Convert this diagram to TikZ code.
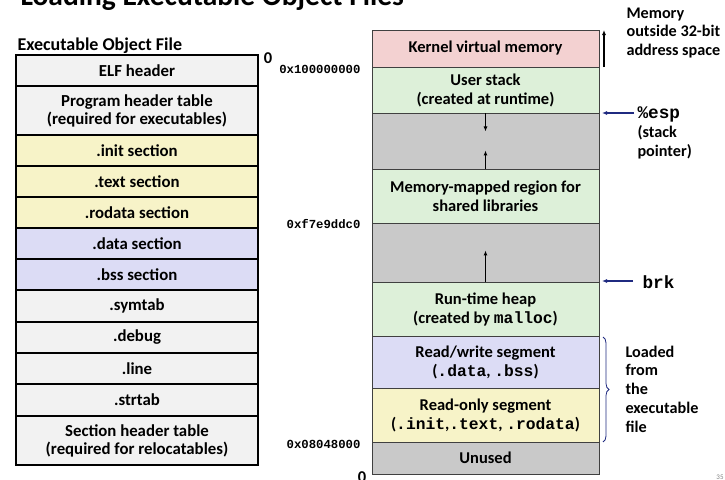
\documentclass[tikz,border=0pt]{standalone}
\usepackage{fontspec}
\setmainfont{Carlito}
\setmonofont{Liberation Mono}
\usetikzlibrary{arrows.meta,decorations.pathreplacing}
\definecolor{filegray}{HTML}{F2F2F2}
\definecolor{codeyellow}{HTML}{F7F3C8}
\definecolor{datablue}{HTML}{DCDCF5}
\definecolor{kernpink}{HTML}{F3D1D1}
\definecolor{usergreen}{HTML}{DDF0D9}
\definecolor{gapgray}{HTML}{C9C9C9}
\definecolor{segline}{HTML}{404040}
\definecolor{ptrblue}{HTML}{1F2A80}
\newcommand\code[1]{{\ttfamily\fontsize{16.3}{19}\selectfont #1}}

\begin{document}
\begin{tikzpicture}[x=1pt,y=-1pt,
	sec/.style={draw=black,line width=1.6pt,minimum width=242pt,inner sep=0pt,align=center,
		font=\fontsize{16.8}{18}\selectfont\bfseries},
	seg/.style={draw=segline,line width=0.9pt,minimum width=227pt,inner sep=0pt,align=center,
		font=\fontsize{16.5}{19}\selectfont\bfseries},
	addr/.style={anchor=east,font=\ttfamily\bfseries\fontsize{12.3}{14}\selectfont},
	note/.style={anchor=west,align=left,font=\fontsize{16.2}{18.8}\selectfont\bfseries},
	growarrow/.style={-{Latex[length=5pt,width=4pt]},line width=1.1pt},
	ptr/.style={-{Latex[length=5pt,width=4pt]},line width=1.1pt,draw=ptrblue}]
	\useasboundingbox (0,0) rectangle (725,479);
	% title, cut off by the page
	\node[anchor=base west,font=\fontsize{29.5}{34}\selectfont\bfseries] (title) at (17,5.5) {Loading Executable Object Files};
	% executable object file
	\node[anchor=base west,font=\fontsize{18}{20}\selectfont\bfseries] (filehead) at (14,50) {Executable Object File};
	\node[sec,fill=filegray,minimum height=31pt] (elf) at (137,70.5) {ELF header};
	\node[sec,fill=filegray,minimum height=49pt] (pht) at (137,110.5) {Program header table\\(required for executables)};
	\node[sec,fill=codeyellow,minimum height=31pt] (init) at (137,150.5) {.init section};
	\node[sec,fill=codeyellow,minimum height=31pt] (text) at (137,181.5) {.text section};
	\node[sec,fill=codeyellow,minimum height=31pt] (rodata) at (137,212.5) {.rodata section};
	\node[sec,fill=datablue,minimum height=31pt] (data) at (137,243.5) {.data section};
	\node[sec,fill=datablue,minimum height=31pt] (bss) at (137,274.5) {.bss section};
	\node[sec,fill=filegray,minimum height=32pt] (symtab) at (137,306) {.symtab};
	\node[sec,fill=filegray,minimum height=31pt] (debug) at (137,337.5) {.debug};
	\node[sec,fill=filegray,minimum height=31pt] (line) at (137,368.5) {.line};
	\node[sec,fill=filegray,minimum height=32pt] (strtab) at (137,400) {.strtab};
	\node[sec,fill=filegray,minimum height=49pt] (sht) at (137,440.5) {Section header table\\(required for relocatables)};
	\node[font=\fontsize{16.5}{18}\selectfont\bfseries] (filezero) at (268,58) {0};
	% process image
	\node[seg,fill=kernpink,minimum height=37pt] (kernel) at (485.5,48.5) {Kernel virtual memory};
	\node[seg,fill=usergreen,minimum height=46pt] (ustack) at (485.5,90) {User stack\\(created at runtime)};
	\node[seg,fill=gapgray,minimum height=56pt] (gapa) at (485.5,141) {};
	\node[seg,fill=usergreen,minimum height=54pt] (mmap) at (485.5,196) {Memory-mapped region for\\shared libraries};
	\node[seg,fill=gapgray,minimum height=59pt] (gapb) at (485.5,252.5) {};
	\node[seg,fill=usergreen,minimum height=54pt] (heap) at (485.5,309) {Run-time heap\\(created by \code{malloc})};
	\node[seg,fill=datablue,minimum height=52pt] (rw) at (485.5,362) {Read/write segment\\(\code{.data}, \code{.bss})};
	\node[seg,fill=codeyellow,minimum height=54pt] (ro) at (485.5,415) {Read-only segment\\(\code{.init},\code{.text}, \code{.rodata})};
	\node[seg,fill=gapgray,minimum height=32pt] (unused) at (485.5,458) {Unused};
	% growth arrows
	\draw[growarrow] (ustack.south) -- ++(0,18);
	\draw[growarrow] (gapa.south) -- ++(0,-19);
	\draw[growarrow] (gapb.south) -- ++(0,-32);
	% addresses
	\node[addr] (atop) at (364,69) {0x100000000};
	\node[addr] (ambrk) at (364,224) {0xf7e9ddc0};
	\node[addr] (aload) at (364,444) {0x08048000};
	\node[font=\fontsize{16.5}{18}\selectfont\bfseries] (memzero) at (362,477) {0};
	% right side notes
	\coordinate (kerntail) at (604,67);
	\coordinate (kerntip) at (604,30);
	\draw[growarrow] (kerntail) -- (kerntip);
	\node[note] (outside) at (623,33) {Memory\\outside 32-bit\\address space};
	\node[note] (esp) at (634,133) {\ttfamily\fontsize{17.7}{18.8}\selectfont\%esp\\(stack\\pointer)};
	\coordinate (esptail) at (634,113);
	\coordinate (esptip) at (602,113);
	\draw[ptr] (esptail) -- (esptip);
	\node[anchor=west,font=\ttfamily\bfseries\fontsize{17.7}{18}\selectfont] (brk) at (639,282) {brk};
	\coordinate (brktail) at (633,281);
	\coordinate (brktip) at (602,281);
	\draw[ptr] (brktail) -- (brktip);
	\coordinate (bracetop) at (603,337);
	\coordinate (bracebot) at (603,442);
	\draw[ptrblue,line width=0.8pt,decorate,decoration={brace,amplitude=6pt}] (bracetop) -- (bracebot);
	\node[note] (loaded) at (622,389) {Loaded\\from\\the\\executable\\file};
	\node[font=\fontsize{7}{8}\selectfont,text=gray] (pagenum) at (720,477) {35};
\end{tikzpicture}
\end{document}
